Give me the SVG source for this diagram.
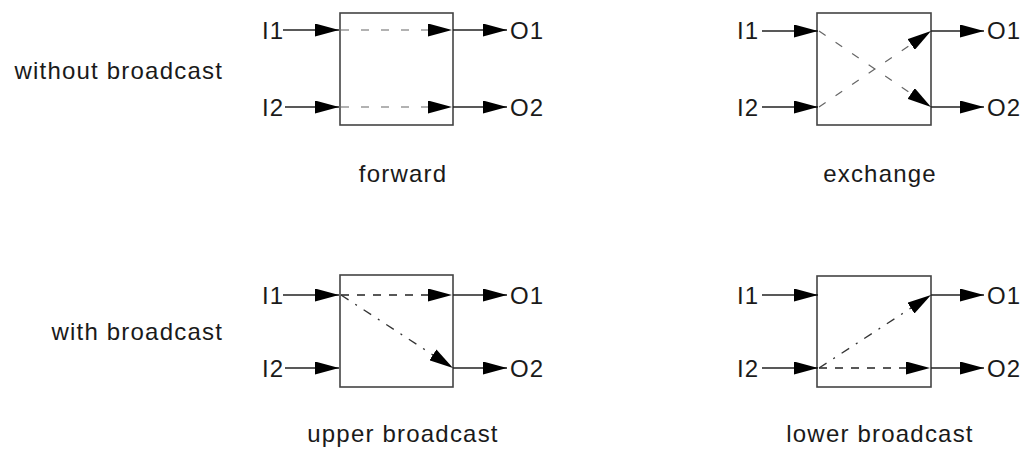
<svg xmlns="http://www.w3.org/2000/svg" width="1025" height="450" viewBox="0 0 1025 450">
  <style>
    text { font-family: "Liberation Sans", Arial, sans-serif; font-size: 24px; letter-spacing: 1.2px; fill: #1a1a1a; }
    .mid { text-anchor: middle; }
    .end { text-anchor: end; }
    .box { fill: #fff; stroke: #444; stroke-width: 1.6; }
    .wire { fill: none; stroke: #222; stroke-width: 1.3; }
    .dash { fill: none; stroke: #666; stroke-width: 1.2; stroke-dasharray: 8 12; }
    .dashdark { fill: none; stroke: #222; stroke-width: 1.3; stroke-dasharray: 8 8; }
    .dashdot { fill: none; stroke: #333; stroke-width: 1.3; stroke-dasharray: 9 8 2 8; }
  </style>
  <defs>
    <marker id="head" markerUnits="userSpaceOnUse" markerWidth="24" markerHeight="13" refX="24" refY="6.5" orient="auto">
      <path d="M0,0 L24,6.5 L0,13 Z" fill="#000"/>
    </marker>
  </defs>

  <rect width="1025" height="450" fill="#fff"/>

  <!-- row captions -->
  <text id="row-without" class="end" x="223" y="79">without broadcast</text>
  <text id="row-with" class="end" x="223" y="340">with broadcast</text>

  <!-- switch: forward -->
  <g id="forward">
    <rect class="box" x="340" y="13" width="113" height="112"/>
    <text x="262" y="39">I1</text>
    <text x="262" y="116">I2</text>
    <text x="510" y="39">O1</text>
    <text x="510" y="116">O2</text>
    <text class="mid" x="403" y="182">forward</text>
  </g>

  <!-- switch: exchange -->
  <g id="exchange">
    <rect class="box" x="817" y="13" width="114" height="112"/>
    <text x="737" y="39">I1</text>
    <text x="737" y="116">I2</text>
    <text x="987" y="39">O1</text>
    <text x="987" y="116">O2</text>
    <text class="mid" x="880" y="182">exchange</text>
  </g>

  <!-- switch: upper broadcast -->
  <g id="upper-broadcast">
    <rect class="box" x="340" y="275" width="113" height="112"/>
    <text x="262" y="304">I1</text>
    <text x="262" y="377">I2</text>
    <text x="510" y="304">O1</text>
    <text x="510" y="377">O2</text>
    <text class="mid" x="403" y="442">upper broadcast</text>
  </g>

  <!-- switch: lower broadcast -->
  <g id="lower-broadcast">
    <rect class="box" x="817" y="276" width="114" height="111"/>
    <text x="737" y="304">I1</text>
    <text x="737" y="377">I2</text>
    <text x="987" y="304">O1</text>
    <text x="987" y="377">O2</text>
    <text class="mid" x="880" y="442">lower broadcast</text>
  </g>

  <g id="connectors">
    <!-- forward -->
    <line class="wire" x1="283" y1="30" x2="339" y2="30" marker-end="url(#head)"/>
    <line class="wire" x1="285" y1="107" x2="339" y2="107" marker-end="url(#head)"/>
    <line class="dash" x1="341" y1="30" x2="452" y2="30" marker-end="url(#head)"/>
    <line class="dash" x1="341" y1="107" x2="452" y2="107" marker-end="url(#head)"/>
    <line class="wire" x1="453" y1="30" x2="507" y2="30" marker-end="url(#head)"/>
    <line class="wire" x1="453" y1="107" x2="507" y2="107" marker-end="url(#head)"/>

    <!-- exchange -->
    <line class="wire" x1="762" y1="31" x2="818" y2="31" marker-end="url(#head)"/>
    <line class="wire" x1="762" y1="107" x2="818" y2="107" marker-end="url(#head)"/>
    <line class="dash" x1="819" y1="31" x2="931" y2="107" marker-end="url(#head)"/>
    <line class="dash" x1="819" y1="107" x2="931" y2="31" marker-end="url(#head)"/>
    <line class="wire" x1="931" y1="31" x2="984" y2="31" marker-end="url(#head)"/>
    <line class="wire" x1="931" y1="107" x2="984" y2="107" marker-end="url(#head)"/>

    <!-- upper broadcast -->
    <line class="wire" x1="283" y1="295" x2="339" y2="295" marker-end="url(#head)"/>
    <line class="wire" x1="285" y1="368" x2="339" y2="368" marker-end="url(#head)"/>
    <line class="dashdark" x1="341" y1="295" x2="452" y2="295" marker-end="url(#head)"/>
    <line class="dashdot" x1="341" y1="295" x2="453" y2="368" marker-end="url(#head)"/>
    <line class="wire" x1="453" y1="295" x2="507" y2="295" marker-end="url(#head)"/>
    <line class="wire" x1="453" y1="368" x2="507" y2="368" marker-end="url(#head)"/>

    <!-- lower broadcast -->
    <line class="wire" x1="762" y1="295" x2="818" y2="295" marker-end="url(#head)"/>
    <line class="wire" x1="762" y1="368" x2="818" y2="368" marker-end="url(#head)"/>
    <line class="dashdark" x1="819" y1="368" x2="930" y2="368" marker-end="url(#head)"/>
    <line class="dashdot" x1="819" y1="368" x2="931" y2="295" marker-end="url(#head)"/>
    <line class="wire" x1="931" y1="295" x2="984" y2="295" marker-end="url(#head)"/>
    <line class="wire" x1="931" y1="368" x2="984" y2="368" marker-end="url(#head)"/>
  </g>
</svg>
